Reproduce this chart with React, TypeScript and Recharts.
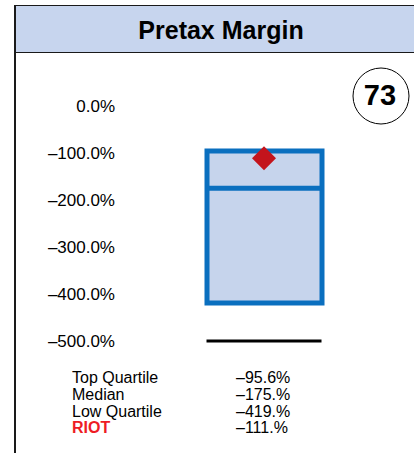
import { ComposedChart, Bar, Scatter, XAxis, YAxis } from "recharts";

const categories = ["RIOT"];
const boxRange: [number, number][] = [[-419, -95.6]];
const medianValues = [-175];
const companyValues = [-111];
const floorValues = [-500];
const yTicks = [0, -100, -200, -300, -400, -500];
const rankValue = 73;

const statLabels = ["Top Quartile", "Median", "Low Quartile", "RIOT"];
const statValues = ["\u201395.6%", "\u2013175.%", "\u2013419.%", "\u2013111.%"];

const FONT = "'Liberation Sans', Arial, Helvetica, sans-serif";
const BLUE = "#0a6fbf";
const FILL = "#c6d4ec";

const chartData = categories.map((name, i) => ({
  name,
  box: boxRange[i],
  median: medianValues[i],
  company: companyValues[i],
  floor: floorValues[i],
}));

const fmtTick = (v: number) =>
  v === 0 ? "0.0%" : `\u2013${Math.abs(v).toFixed(1)}%`;

// horizontal bar across the box (median / floor markers)
const HLine = (color: string, width: number, thick: number) => (props: any) => {
  const { cx, cy } = props;
  if (cx == null || cy == null) return null;
  return (
    <line
      x1={cx - width / 2}
      x2={cx + width / 2}
      y1={cy}
      y2={cy}
      stroke={color}
      strokeWidth={thick}
    />
  );
};

const Diamond = (props: any) => {
  const { cx, cy } = props;
  if (cx == null || cy == null) return null;
  const r = 12;
  return (
    <polygon
      points={`${cx},${cy - r} ${cx + r},${cy} ${cx},${cy + r} ${cx - r},${cy}`}
      fill="#c3141c"
    />
  );
};

export default function App() {
  return (
    <div
      style={{
        position: "absolute",
        left: 0,
        top: 0,
        width: 414,
        height: 453,
        background: "#fff",
        fontFamily: FONT,
        overflow: "hidden",
      }}
    >
      {/* header band */}
      <div
        style={{
          position: "absolute",
          left: 14,
          top: 5,
          width: 420,
          height: 46,
          background: "#c7d5ee",
          borderTop: "1.5px solid #1a1a1a",
          borderBottom: "1.5px solid #1a1a1a",
          borderLeft: "1.5px solid #1a1a1a",
        }}
      />
      <svg
        width={414}
        height={60}
        style={{ position: "absolute", left: 0, top: 0 }}
      >
        <text
          x={221}
          y={39}
          textAnchor="middle"
          fontFamily={FONT}
          fontWeight="bold"
          fontSize={25}
          fill="#000"
        >
          Pretax Margin
        </text>
      </svg>
      {/* left frame line */}
      <div
        style={{
          position: "absolute",
          left: 14,
          top: 5,
          width: 1.5,
          height: 448,
          background: "#1a1a1a",
        }}
      />

      <div style={{ position: "absolute", left: 0, top: 0 }}>
        <ComposedChart
          width={414}
          height={453}
          data={chartData}
          margin={{ top: 106, right: 9, bottom: 112, left: 0 }}
        >
          <XAxis dataKey="name" hide />
          <YAxis
            type="number"
            domain={[-500, 0]}
            ticks={yTicks}
            interval={0}
            width={123}
            axisLine={false}
            tickLine={false}
            tickFormatter={fmtTick}
            tick={{ fill: "#000", fontSize: 17, fontFamily: FONT }}
          />
          <Bar
            dataKey="box"
            barSize={115}
            fill={FILL}
            stroke={BLUE}
            strokeWidth={5}
            isAnimationActive={false}
          />
          <Scatter
            dataKey="median"
            shape={HLine(BLUE, 115, 5)}
            isAnimationActive={false}
          />
          <Scatter
            dataKey="floor"
            shape={HLine("#000", 115, 3)}
            isAnimationActive={false}
          />
          <Scatter
            dataKey="company"
            shape={Diamond}
            isAnimationActive={false}
          />
        </ComposedChart>
      </div>

      {/* rank badge */}
      <svg
        width={414}
        height={453}
        style={{ position: "absolute", left: 0, top: 0, pointerEvents: "none" }}
      >
        <circle cx={381} cy={96} r={28} fill="#fff" stroke="#000" strokeWidth={1} />
        <text
          x={380}
          y={95}
          textAnchor="middle"
          dy="0.36em"
          fontFamily={FONT}
          fontWeight="bold"
          fontSize={29}
          fill="#000"
        >
          {rankValue}
        </text>
      </svg>

      {/* stats table */}
      <div
        style={{
          position: "absolute",
          left: 72,
          top: 370,
          fontSize: 16,
          lineHeight: "16.8px",
        }}
      >
        {statLabels.map((label, i) => (
          <div key={label} style={{ display: "flex" }}>
            <div
              style={{
                width: 164,
                color: i === 3 ? "#ee1c25" : "#000",
                fontWeight: i === 3 ? "bold" : "normal",
              }}
            >
              {label}
            </div>
            <div style={{ color: "#000" }}>{statValues[i]}</div>
          </div>
        ))}
      </div>
    </div>
  );
}
